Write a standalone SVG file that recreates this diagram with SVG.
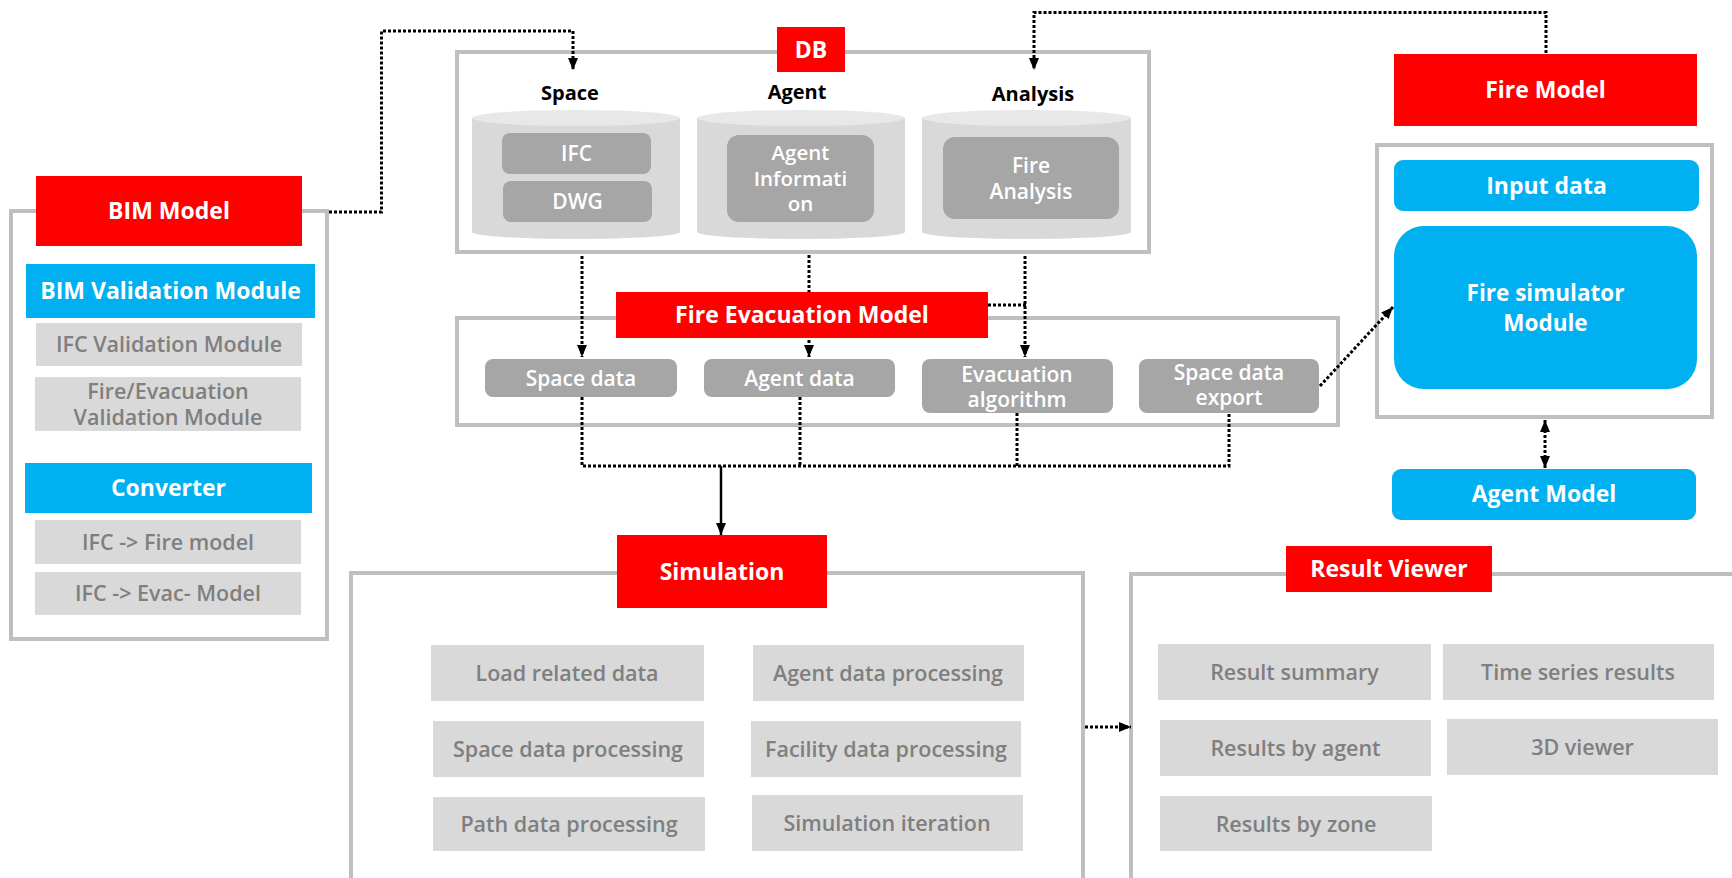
<svg xmlns="http://www.w3.org/2000/svg" width="1732" height="878" viewBox="0 0 1732 878">
<style>
.ctr{fill:#fff;stroke:#bfbfbf;stroke-width:4}
.red{fill:#ff0000}
.blue{fill:#00b0f0}
.dk{fill:#a6a6a6}
.lt{fill:#d9d9d9}
.cylb{fill:#d9d9d9}
.cylt{fill:#e8e8e8}
text{font-family:"Open Sans","Noto Sans","Liberation Sans",sans-serif;text-anchor:middle}
.hw{font-size:23px;font-weight:700;fill:#fff}
.tw{font-size:21px;font-weight:600;fill:#fff}
.tg{font-size:21.5px;font-weight:600;fill:#7f7f7f}
.tb{font-size:20px;font-weight:700;fill:#000}
.dot{fill:none;stroke:#000;stroke-width:3;stroke-dasharray:3 2}
.sol{fill:none;stroke:#000;stroke-width:2.5}
</style>
<defs>
<marker id="ah" viewBox="0 0 12 10" refX="12" refY="5" markerWidth="12" markerHeight="10" markerUnits="userSpaceOnUse" orient="auto-start-reverse">
<path d="M0,0 L12,5 L0,10 z" fill="#000"/>
</marker>
</defs>

<!-- containers -->
<g id="bim-container"><rect class="ctr" x="11" y="211" width="316" height="428"/></g>
<g id="db-container"><rect class="ctr" x="457" y="52" width="692" height="200"/></g>
<g id="fem-container"><rect class="ctr" x="457" y="318" width="881" height="107"/></g>
<g id="fire-container"><rect class="ctr" x="1377" y="145" width="335" height="272"/></g>
<g id="sim-container"><rect class="ctr" x="351" y="573" width="732" height="340"/></g>
<g id="result-container"><rect class="ctr" x="1131" y="574" width="640" height="340"/></g>

<!-- connectors -->
<g id="connectors">
<path class="dot" d="M329,212 H381.5 V31 H573 V70" marker-end="url(#ah)"/>
<path class="dot" d="M1546,53 V12.5 H1034 V70" marker-end="url(#ah)"/>
<path class="dot" d="M582,256 V357" marker-end="url(#ah)"/>
<path class="dot" d="M809,255 V357" marker-end="url(#ah)"/>
<path class="dot" d="M1025,256 V357" marker-end="url(#ah)"/>
<path class="dot" d="M988,305 H1026"/>
<path class="dot" d="M582,397 V466 H1229 V413"/>
<path class="dot" d="M800,397 V466"/>
<path class="dot" d="M1017,413 V466"/>
<path class="sol" d="M721,466 V535" marker-end="url(#ah)"/>
<path class="dot" d="M1320,386 L1393,307" marker-end="url(#ah)"/>
<path class="dot" d="M1545,420 V468" marker-start="url(#ah)" marker-end="url(#ah)"/>
<path class="dot" d="M1085,727 H1131" marker-end="url(#ah)"/>
</g>

<!-- BIM -->
<g id="bim-model"><rect class="red" x="36" y="176" width="266" height="70"/><text class="hw" x="169" y="219">BIM Model</text></g>
<g id="bim-validation"><rect class="blue" x="26" y="264" width="289" height="54"/><text class="hw" x="170.5" y="299">BIM Validation Module</text></g>
<g id="ifc-validation"><rect class="lt" x="36" y="323" width="266" height="43"/><text class="tg" x="169" y="352">IFC Validation Module</text></g>
<g id="fire-evac-validation"><rect class="lt" x="35" y="377" width="266" height="54"/><text class="tg" x="168" y="399">Fire/Evacuation<tspan x="168" dy="26">Validation Module</tspan></text></g>
<g id="converter"><rect class="blue" x="25" y="463" width="287" height="50"/><text class="hw" x="168.5" y="496">Converter</text></g>
<g id="ifc-fire"><rect class="lt" x="35" y="520" width="266" height="44"/><text class="tg" x="168" y="550">IFC -&gt; Fire model</text></g>
<g id="ifc-evac"><rect class="lt" x="35" y="572" width="266" height="43"/><text class="tg" x="168" y="601">IFC -&gt; Evac- Model</text></g>

<!-- DB -->
<g id="db-label"><rect class="red" x="777" y="27" width="68" height="45"/><text class="hw" x="811" y="57.5">DB</text></g>
<g id="space-db">
<text class="tb" x="570" y="100">Space</text>
<path class="cylb" d="M472,118 V232 A104,7 0 0 0 680,232 V118 Z"/>
<ellipse class="cylt" cx="576" cy="118" rx="104" ry="8"/>
<rect class="dk" x="502" y="133" width="149" height="41" rx="8"/><text class="tw" x="576.5" y="161">IFC</text>
<rect class="dk" x="503" y="181" width="149" height="41" rx="8"/><text class="tw" x="577.5" y="209">DWG</text>
</g>
<g id="agent-db">
<text class="tb" x="797" y="99">Agent</text>
<path class="cylb" d="M697,118 V232 A104,7 0 0 0 905,232 V118 Z"/>
<ellipse class="cylt" cx="801" cy="118" rx="104" ry="8"/>
<rect class="dk" x="727" y="135" width="147" height="87" rx="12"/>
<text class="tw" x="800.5" y="159.5" style="font-size:20.5px">Agent<tspan x="800.5" dy="26">Informati</tspan><tspan x="800.5" dy="25.5">on</tspan></text>
</g>
<g id="analysis-db">
<text class="tb" x="1033" y="100.5">Analysis</text>
<path class="cylb" d="M922,118 V232 A104.5,7 0 0 0 1131,232 V118 Z"/>
<ellipse class="cylt" cx="1026.5" cy="118" rx="104.5" ry="8"/>
<rect class="dk" x="943" y="137" width="176" height="82" rx="12"/>
<text class="tw" x="1031" y="173">Fire<tspan x="1031" dy="26">Analysis</tspan></text>
</g>

<!-- Fire Evacuation Model -->
<g id="fem-label"><rect class="red" x="616" y="292" width="372" height="46"/><text class="hw" x="802" y="323">Fire Evacuation Model</text></g>
<g id="space-data"><rect class="dk" x="485" y="359" width="192" height="38" rx="8"/><text class="tw" x="581" y="385.5">Space data</text></g>
<g id="agent-data"><rect class="dk" x="704" y="359" width="191" height="38" rx="8"/><text class="tw" x="799.5" y="385.5">Agent data</text></g>
<g id="evac-algorithm"><rect class="dk" x="922" y="359" width="191" height="54" rx="8"/><text class="tw" x="1017" y="381.5">Evacuation<tspan x="1017" dy="25">algorithm</tspan></text></g>
<g id="space-export"><rect class="dk" x="1139" y="359" width="180" height="54" rx="8"/><text class="tw" x="1229" y="380">Space data<tspan x="1229" dy="25">export</tspan></text></g>

<!-- Fire Model -->
<g id="fire-model"><rect class="red" x="1394" y="54" width="303" height="72"/><text class="hw" x="1545.5" y="98">Fire Model</text></g>
<g id="input-data"><rect class="blue" x="1394" y="160" width="305" height="51" rx="9"/><text class="hw" x="1546.5" y="193.5">Input data</text></g>
<g id="fire-simulator"><rect class="blue" x="1394" y="226" width="303" height="163" rx="30"/><text class="hw" x="1545.5" y="301" style="font-size:22.5px">Fire simulator<tspan x="1545.5" dy="29.5">Module</tspan></text></g>
<g id="agent-model"><rect class="blue" x="1392" y="469" width="304" height="51" rx="9"/><text class="hw" x="1544" y="502">Agent Model</text></g>

<!-- Simulation -->
<g id="simulation"><rect class="red" x="617" y="535" width="210" height="73"/><text class="hw" x="722" y="579.5">Simulation</text></g>
<g id="load-data"><rect class="lt" x="431" y="645" width="273" height="56"/><text class="tg" x="567" y="681">Load related data</text></g>
<g id="agent-proc"><rect class="lt" x="753" y="645" width="271" height="56"/><text class="tg" x="888" y="681">Agent data processing</text></g>
<g id="space-proc"><rect class="lt" x="433" y="721" width="271" height="56"/><text class="tg" x="568" y="757">Space data processing</text></g>
<g id="facility-proc"><rect class="lt" x="751" y="721" width="270" height="56"/><text class="tg" x="886" y="757">Facility data processing</text></g>
<g id="path-proc"><rect class="lt" x="433" y="797" width="272" height="54"/><text class="tg" x="569" y="832">Path data processing</text></g>
<g id="sim-iteration"><rect class="lt" x="752" y="795" width="271" height="56"/><text class="tg" x="887" y="831">Simulation iteration</text></g>

<!-- Result Viewer -->
<g id="result-viewer"><rect class="red" x="1286" y="546" width="206" height="46"/><text class="hw" x="1389" y="577">Result Viewer</text></g>
<g id="result-summary"><rect class="lt" x="1158" y="644" width="273" height="56"/><text class="tg" x="1294.5" y="680">Result summary</text></g>
<g id="time-series"><rect class="lt" x="1443" y="644" width="271" height="56"/><text class="tg" x="1578" y="680">Time series results</text></g>
<g id="results-agent"><rect class="lt" x="1160" y="720" width="271" height="56"/><text class="tg" x="1295.5" y="756">Results by agent</text></g>
<g id="viewer-3d"><rect class="lt" x="1447" y="719" width="271" height="56"/><text class="tg" x="1582.5" y="755">3D viewer</text></g>
<g id="results-zone"><rect class="lt" x="1160" y="796" width="272" height="55"/><text class="tg" x="1296" y="831.5">Results by zone</text></g>
</svg>
